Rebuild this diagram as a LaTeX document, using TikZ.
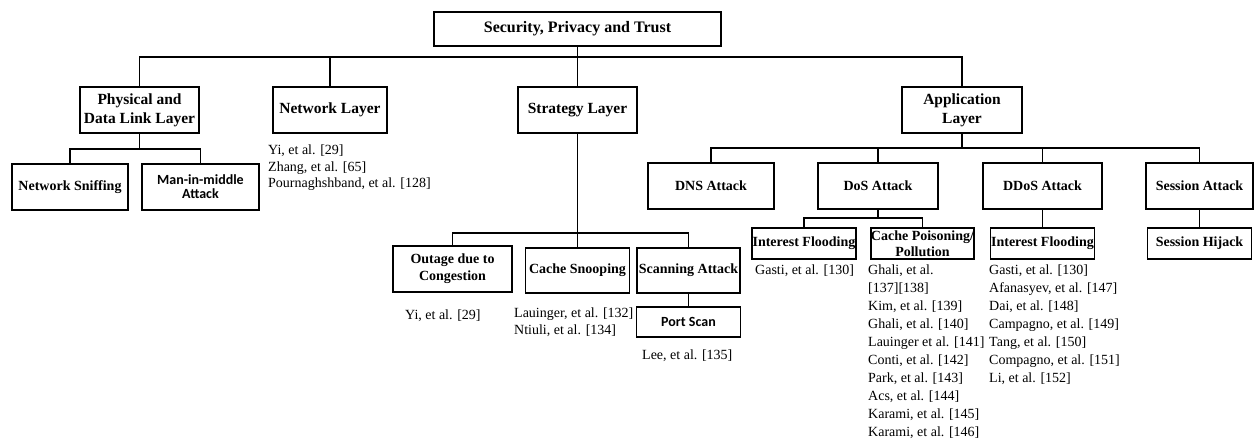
\documentclass[tikz,border=0pt]{standalone}
\usepackage{fontspec}
\setmainfont{Liberation Serif}
\newfontfamily\calib{Carlito}
\tikzset{
  bx/.style={draw, line width=1.5pt, inner sep=0pt, align=center,
    font=\bfseries\fontsize{14}{17}\selectfont},
  lv1/.style={bx, font=\bfseries\fontsize{15.5}{19}\selectfont},
  sansbx/.style={bx, font=\calib\bfseries\fontsize{14}{14}\selectfont},
  cite/.style={anchor=north west, inner sep=0pt, align=left,
    font=\fontsize{14}{16.5}\selectfont},
  citeb/.style={cite, font=\fontsize{14}{18}\selectfont},
  ln/.style={line width=1.5pt}
}
\begin{document}
\begin{tikzpicture}[x=1pt,y=-1pt]
\useasboundingbox (0,0) rectangle (1254,443);
% root
\node[lv1, font=\bfseries\fontsize{16}{19}\selectfont, minimum width=287, minimum height=34] (root) at (577.5,29) {Security, Privacy and Trust};
% level 1
\node[lv1, minimum width=119, minimum height=46] (phys) at (139.5,110) {Physical and\\Data Link Layer};
\node[lv1, minimum width=114, minimum height=46] (net) at (330,110) {Network Layer};
\node[lv1, minimum width=119, minimum height=46] (strat) at (577.5,110) {Strategy Layer};
\node[lv1, minimum width=120, minimum height=46] (app) at (962,110) {Application\\Layer};
% physical children
\node[bx, minimum width=116, minimum height=46] (ns) at (70,187) {Network Sniffing};
\node[sansbx, minimum width=117, minimum height=46] (mim) at (200.5,187) {Man-in-middle\\Attack};
% application children
\node[bx, minimum width=126, minimum height=46] (dns) at (711,186) {DNS Attack};
\node[bx, minimum width=120, minimum height=46] (dos) at (878,186) {DoS Attack};
\node[bx, minimum width=119, minimum height=46] (ddos) at (1042.5,186) {DDoS Attack};
\node[bx, minimum width=107, minimum height=46] (sess) at (1199.5,186) {Session Attack};
% dos children
\node[bx, minimum width=104, minimum height=31] (ifl) at (804,243.5) {Interest Flooding};
\node[bx, font=\bfseries\fontsize{14}{16}\selectfont, minimum width=103, minimum height=31] (cpp) at (922.5,243.5) {Cache Poisoning/\\Pollution};
\node[bx, minimum width=104, minimum height=31] (ddif) at (1042.5,243.5) {Interest Flooding};
\node[bx, minimum width=104, minimum height=31] (sh) at (1199.5,243.5) {Session Hijack};
% strategy children
\node[bx, minimum width=119, minimum height=46] (out) at (452.5,269) {Outage due to\\Congestion};
\node[bx, minimum width=104, minimum height=45] (cs) at (577.5,270.5) {Cache Snooping};
\node[bx, minimum width=103, minimum height=45] (sa) at (688.5,270.5) {Scanning Attack};
\node[sansbx, minimum width=104, minimum height=30] (ps) at (688.5,322) {Port Scan};
% junctions
\coordinate (j1) at (577.5,57);
\coordinate (j2) at (139.5,149);
\coordinate (j3) at (962,148);
\coordinate (j4) at (878,218);
\coordinate (j5) at (577.5,233);
% connectors
\draw[ln] (root.south) -- (strat.north);
\draw[ln] (phys.north) |- (j1) -| (app.north);
\draw[ln] (net.north) -- (net.north |- j1);
\draw[ln] (phys.south) -- (j2);
\draw[ln] (ns.north) |- (j2) -| (mim.north);
\draw[ln] (app.south) -- (j3);
\draw[ln] (dns.north) |- (j3) -| (sess.north);
\draw[ln] (dos.north) -- (dos.north |- j3);
\draw[ln] (ddos.north) -- (ddos.north |- j3);
\draw[ln] (dos.south) -- (j4);
\draw[ln] (ifl.north) |- (j4) -| (cpp.north);
\draw[ln] (ddos.south) -- (ddif.north);
\draw[ln] (sess.south) -- (sh.north);
\draw[ln] (strat.south) -- (cs.north);
\draw[ln] (out.north) |- (j5) -| (sa.north);
\draw[ln] (sa.south) -- (ps.north);
% citations
\node[cite] (netc) at (268,145) {Yi, et al. [29]\\Zhang, et al. [65]\\Pournaghshband, et al. [128]};
\node[cite] (outc) at (405,310) {Yi, et al. [29]};
\node[cite] (csc) at (514,308) {Lauinger, et al. [132]\\Ntiuli, et al. [134]};
\node[cite] (psc) at (642,350) {Lee, et al. [135]};
\node[citeb] (iflc) at (755,265) {Gasti, et al. [130]};
\node[citeb] (cppc) at (868,265) {Ghali, et al.\\{}[137][138]\\Kim, et al. [139]\\Ghali, et al. [140]\\Lauinger et al. [141]\\Conti, et al. [142]\\Park, et al. [143]\\Acs, et al. [144]\\Karami, et al. [145]\\Karami, et al. [146]};
\node[citeb] (ddc) at (989,265) {Gasti, et al. [130]\\Afanasyev, et al. [147]\\Dai, et al. [148]\\Campagno, et al. [149]\\Tang, et al. [150]\\Compagno, et al. [151]\\Li, et al. [152]};
\end{tikzpicture}
\end{document}
